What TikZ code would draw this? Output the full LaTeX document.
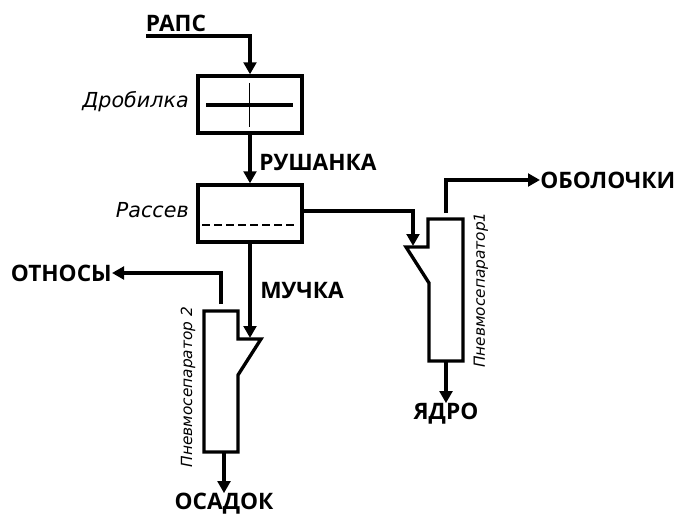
\documentclass[tikz,border=0pt]{standalone}
\usepackage{fontspec}
\setmainfont{Open Sans}
\newfontfamily\itfont{DejaVu Sans}
\usetikzlibrary{arrows.meta,calc}
\begin{document}
\begin{tikzpicture}[x=0.75pt,y=-0.75pt,
  flow/.style={line width=2.4pt,-{Triangle[length=9pt,width=9.5pt]}},
  unit/.style={draw,line width=2.5pt,rectangle,minimum width=78pt,minimum height=42.75pt,inner sep=0pt},
  sep/.style={draw,line width=2.5pt,line join=miter},
  lbl/.style={font=\fontsize{17}{20}\selectfont\bfseries,inner sep=0pt},
  ital/.style={font=\fontsize{15.5}{17}\selectfont\itfont\itshape,inner sep=0pt},
  rot/.style={font=\fontsize{11.5}{14}\selectfont\itfont\itshape,inner sep=0pt,rotate=90}]
\useasboundingbox (0,0) rectangle (675,517);
% units
\node[unit] (drob) at (250,104.5) {};
\node[unit] (rass) at (250,213.5) {};
\draw[line width=2.5pt] (206,105) -- (293,105);
\draw[line width=0.7pt] (249,83) -- (249,127);
\draw[line width=2.2pt,dash pattern=on 6pt off 3pt] (202,225) -- (297,225);
\node[ital,anchor=east] (drobL) at (189,102) {Дробилка};
\node[ital,anchor=east] (rassL) at (189,210) {Рассев};
% pneumoseparator 1
\coordinate (p1tl) at (428,219);
\coordinate (p1tr) at (463,219);
\coordinate (p1br) at (463,361);
\coordinate (p1bl) at (429,361);
\coordinate (p1in) at (406,247);
\draw[sep] (p1tl) -- (p1tr) -- (p1br) -- (p1bl) -- (429,283) -- (p1in) -- (428,247) -- cycle;
\node[rot] (p1L) at (481,290) {Пневмосепаратор1};
% pneumoseparator 2
\coordinate (p2tl) at (204,311);
\coordinate (p2tr) at (238,311);
\coordinate (p2br) at (238,452);
\coordinate (p2bl) at (204,452);
\coordinate (p2in) at (261,339);
\draw[sep] (p2tl) -- (p2tr) -- (238,339) -- (p2in) -- (238,375) -- (p2br) -- (p2bl) -- cycle;
\node[rot] (p2L) at (188,387) {Пневмосепаратор 2};
% labels
\node[lbl] (raps) at (176,23) {РАПС};
\node[lbl,anchor=west] (rush) at (259,162) {РУШАНКА};
\node[lbl,anchor=west] (obol) at (540,180) {ОБОЛОЧКИ};
\node[lbl,anchor=east] (otn) at (112,273) {ОТНОСЫ};
\node[lbl,anchor=west] (much) at (260,290) {МУЧКА};
\node[lbl] (yadro) at (446,414) {ЯДРО};
\node[lbl] (osad) at (224,504) {ОСАДОК};
% connectors
\coordinate (rapsS) at (146,36);
\draw[flow] (rapsS) -| (drob.north);
\draw[flow] (drob.south) -- (rass.north);
\coordinate (rassE) at (302,211);
\coordinate (p1arr) at (413,246);
\draw[flow] (rassE) -| (p1arr);
\coordinate (p1top) at (446,213);
\draw[flow] (p1top) |- (obol.west);
\coordinate (p1bot) at (446,361);
\draw[flow] (p1bot) -- (yadro.north);
\coordinate (p2top) at (221,304);
\draw[flow] (p2top) |- (otn.east);
\coordinate (p2arr) at (250,338);
\draw[flow] (rass.south -| p2arr) -- (p2arr);
\coordinate (p2bot) at (224,452);
\draw[flow] (p2bot) -- (osad.north);
\end{tikzpicture}
\end{document}
